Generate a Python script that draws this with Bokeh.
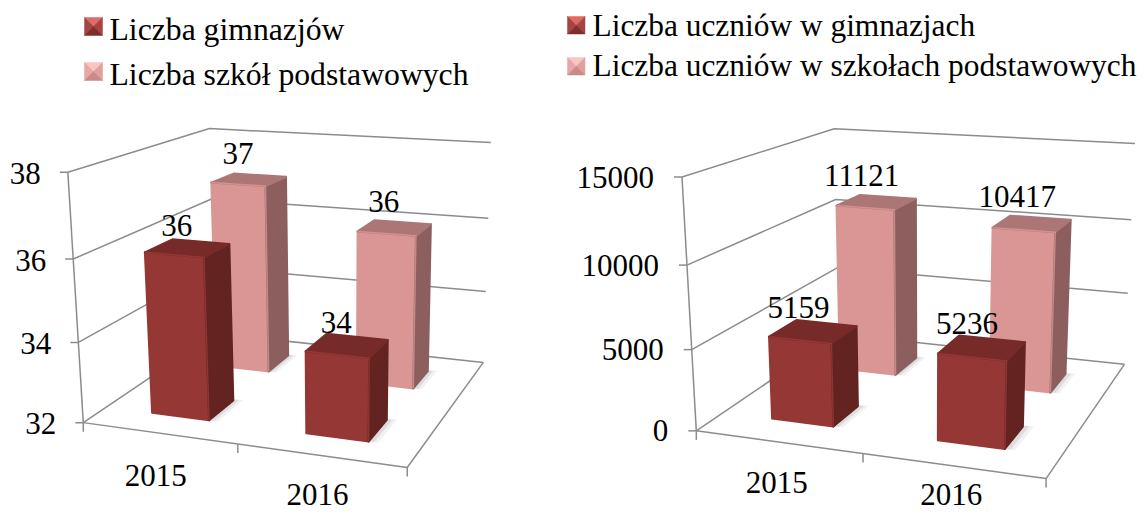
import numpy as np
from bokeh.plotting import figure
from bokeh.models import Range1d
from bokeh.core.properties import value
from bokeh.embed import file_html
from bokeh.resources import INLINE

categories = ["2015", "2016"]
left_series = ["Liczba gimnazjów", "Liczba szkół podstawowych"]
left_front = [36, 34]
left_back = [37, 36]
left_ticks = [32, 34, 36, 38]
right_series = ["Liczba uczniów w gimnazjach", "Liczba uczniów w szkołach podstawowych"]
right_front = [5159, 5236]
right_back = [11121, 10417]
right_ticks = [0, 5000, 10000, 15000]

W, H = 1139, 512
FONT = value("Liberation Serif")
BASE = -11
GRID = "#8c8c8c"
DARK = ("#953735", "#632321", "#772b29", "#a8403e")
PINK = ("#d99694", "#8c5f5e", "#ad7676", "#e6a5a3")
LEG_D = ("#e06a66", "#a54442", "#a54442", "#7e2f2d")
LEG_P = ("#f9c6c4", "#e8a7a5", "#e0a09e", "#c98a88")

p = figure(width=W, height=H, x_range=Range1d(0, W), y_range=Range1d(H, 0),
           x_axis_type=None, y_axis_type=None, toolbar_location=None, output_backend="svg",
           min_border=0, outline_line_color=None, background_fill_color="white")
p.grid.visible = False


def fit_projection(corners):
    A, b = [], []
    for (x, z, v), (u, w) in corners:
        A.append([x, z, v, 1, 0, 0, 0, 0, -u * x, -u * z, -u * v])
        b.append(u)
        A.append([0, 0, 0, 0, x, z, v, 1, -w * x, -w * z, -w * v])
        b.append(w)
    s = np.linalg.lstsq(np.array(A, float), np.array(b, float), rcond=None)[0]
    return np.append(s, 1.0).reshape(3, 4)


def chart(corners, ticks, front, back, fw, fd, bw, bd, zf, zb, tick_off, cat_off, cat_dy, lab_off):
    P = fit_projection(corners)

    def pr(x, z, v):
        h = P @ np.array([x, z, v, 1.0])
        return h[0] / h[2], h[1] / h[2]

    lo, hi = ticks[0], ticks[-1]
    frac = lambda t: (t - lo) / (hi - lo)
    lines = []
    for t in ticks:
        f = frac(t)
        lines.append([pr(0, 0, f), pr(0, 1, f), pr(1, 1, f)])
        a = pr(0, 0, f)
        lines.append([(a[0] - 8, a[1]), a])
    lines.append([pr(0, 0, 0), pr(0, 0, 1)])
    lines.append([pr(0, 0, 0), pr(1, 0, 0), pr(1, 1, 0)])
    for c in (0, 0.5, 1):
        a = pr(c, 0, 0)
        lines.append([a, (a[0], a[1] + 9)])
    p.multi_line([[q[0] for q in l] for l in lines], [[q[1] for q in l] for l in lines],
                 line_color=GRID, line_width=1.5)
    p.text([pr(0, 0, frac(t))[0] + tick_off[0] for t in ticks],
           [pr(0, 0, frac(t))[1] + tick_off[1] + BASE for t in ticks],
           text=[str(t) for t in ticks], text_font=FONT, text_font_size="31px",
           text_align="right", text_baseline="alphabetic", text_color="black")
    n = len(categories)
    cx = [pr((i + 0.5) / n, 0, 0)[0] + cat_off[0] for i in range(n)]
    cy = [pr((i + 0.5) / n, 0, 0)[1] + cat_off[1] + cat_dy[i] + BASE for i in range(n)]
    p.text(cx, cy, text=categories, text_font=FONT, text_font_size="31px",
           text_align="center", text_baseline="alphabetic", text_color="black")

    labels = []
    for vals, zc, w_, d_, cols, ly in ((back, zb, bw, bd, PINK, -3), (front, zf, fw, fd, DARK, 0)):
        for i, val in enumerate(vals):
            xc = (i + 0.5) / n
            x0, x1, z0, z1 = xc - w_ / 2, xc + w_ / 2, zc - d_ / 2, zc + d_ / 2
            f = frac(val)
            for m, al in ((0.028, 0.10), (0.016, 0.16)):
                s = [pr(x0, z0, 0), pr(x1 + m, z0, 0), pr(x1 + m, z1 + m / 2, 0), pr(x0, z1, 0)]
                p.patch([q[0] for q in s], [q[1] for q in s], fill_color="#777777", fill_alpha=al, line_color=None)
            faces = [
                ([pr(x0, z0, 0), pr(x1, z0, 0), pr(x1, z0, f), pr(x0, z0, f)], cols[0]),
                ([pr(x1, z0, 0), pr(x1, z1, 0), pr(x1, z1, f), pr(x1, z0, f)], cols[1]),
                ([pr(x0, z0, f), pr(x1, z0, f), pr(x1, z1, f), pr(x0, z1, f)], cols[2]),
            ]
            p.patches([[q[0] for q in fc[0]] for fc in faces], [[q[1] for q in fc[0]] for fc in faces],
                      fill_color=[fc[1] for fc in faces], line_color=[fc[1] for fc in faces],
                      line_width=2, line_join="round")
            e = [pr(x0, z0, f), pr(x1, z0, f), pr(x1, z0, 0)]
            p.line([q[0] for q in e], [q[1] for q in e], line_color=cols[3], line_width=1.5, line_alpha=0.6)
            t = pr(xc, (z0 + z1) / 2, f)
            labels.append((t[0] + lab_off[0], t[1] + lab_off[1] + ly + BASE, str(val)))
    p.text([l[0] for l in labels], [l[1] for l in labels], text=[l[2] for l in labels], text_font=FONT,
           text_font_size="31px", text_align="center", text_baseline="alphabetic", text_color="black")


def swatch(x0, y0, s, cols):
    cx, cy = x0 + s / 2, y0 + s / 2
    tri = [
        [(x0, y0), (x0 + s, y0), (cx, cy)],
        [(x0, y0), (cx, cy), (x0, y0 + s)],
        [(x0 + s, y0), (x0 + s, y0 + s), (cx, cy)],
        [(x0, y0 + s), (x0 + s, y0 + s), (cx, cy)],
    ]
    p.patches([[q[0] for q in t] for t in tri], [[q[1] for q in t] for t in tri], fill_color=list(cols),
              line_color=list(cols), line_width=0.5)


chart([((0, 0, 0), (81, 422)), ((0, 0, 1), (69, 172)), ((0, 1, 0), (217, 333)), ((0, 1, 1), (207, 128)),
       ((1, 1, 0), (482, 362)), ((1, 1, 1), (491, 142)), ((1, 0, 0), (407, 467))],
      left_ticks, left_front, left_back, 0.19, 0.19, 0.19, 0.19, 0.245, 0.745,
      (-27, 12), (-3, 53), (0, -3), (-11, -12))
chart([((0, 0, 0), (694, 430)), ((0, 0, 1), (683, 177)), ((0, 1, 0), (840, 334)), ((0, 1, 1), (832, 128)),
       ((1, 1, 0), (1123, 364)), ((1, 1, 1), (1135, 143)), ((1, 0, 0), (1046, 478))],
      right_ticks, right_front, right_back, 0.19, 0.18, 0.19, 0.19, 0.25, 0.745,
      (-28, 11), (-1, 52), (0, -12), (-15, -13))

swatch(84, 17, 18, LEG_D)
swatch(84, 62, 18, LEG_P)
swatch(567, 16, 17.5, LEG_D)
swatch(567, 57, 17.5, LEG_P)
p.text([109, 109], [40 + BASE, 85 + BASE], text=left_series, text_font=FONT, text_font_size="31.7px",
       text_baseline="alphabetic", text_color="black")
p.text([592, 592], [36 + BASE, 76 + BASE], text=right_series, text_font=FONT, text_font_size="31.4px",
       text_baseline="alphabetic", text_color="black")

open("out.html", "w").write(file_html(p, INLINE))
